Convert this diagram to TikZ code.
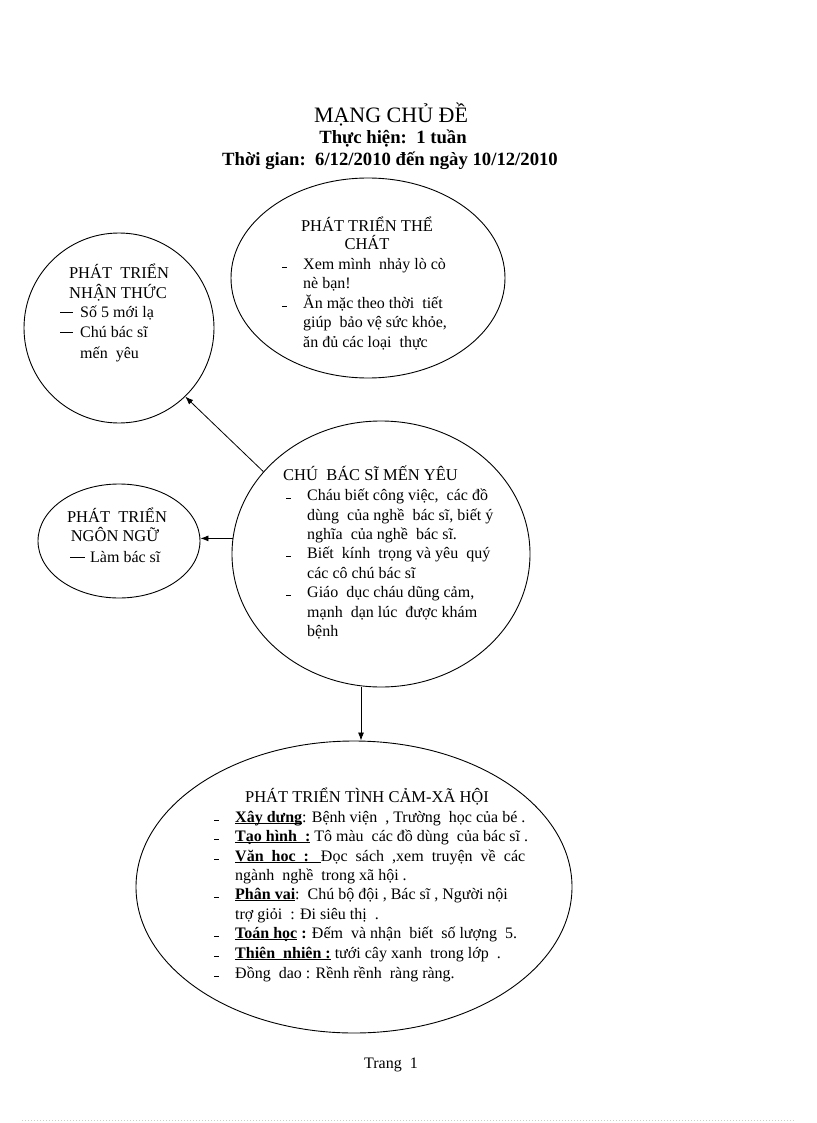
\documentclass[tikz,border=0pt]{standalone}
\usepackage{fontspec}
\setmainfont{Liberation Serif}
\usetikzlibrary{shapes.geometric,arrows.meta}
\definecolor{dotc}{RGB}{195,210,195}
\newcommand\mybul{\llap{\rule[0.8pt]{4.5pt}{1.2pt}\hspace{16.5pt}}}
\newcommand\mydash[2]{\llap{\rule[4.3pt]{#1}{0.9pt}\hspace{#2}}}
\newcommand\myul[1]{\setbox0=\hbox{#1}\rlap{\rule[-2.3pt]{\wd0}{0.9pt}}\box0\relax}
\tikzset{
  bub/.style={draw, ellipse, line width=0.9pt, inner sep=0pt},
  txt/.style={inner sep=0pt, anchor=base west, font=\fontsize{16}{19}\selectfont},
  hd/.style={inner sep=0pt, anchor=base, font=\fontsize{16.5}{19}\selectfont},
  arr/.style={line width=0.8pt, -{Latex[length=8pt,width=6pt]}},
}
\begin{document}
\begin{tikzpicture}[x=1pt,y=-1pt]
\useasboundingbox (0,0) rectangle (816,1123);

% title
\node[inner sep=0pt, anchor=base, font=\fontsize{22}{26}\selectfont] (title) at (391,123) {MẠNG CHỦ ĐỀ};
\node[inner sep=0pt, anchor=base, font=\bfseries\fontsize{18.7}{22}\selectfont] (th) at (393,144) {Thực hiện:\ \ 1 tuần};
\node[inner sep=0pt, anchor=base, font=\bfseries\fontsize{18.7}{22}\selectfont] (tg) at (390,166) {Thời gian:\ \ 6/12/2010 đến ngày 10/12/2010};

% bubbles
\node[bub, minimum width=274pt, minimum height=200pt] (tc) at (368,278) {};
\node[bub, minimum width=190pt, minimum height=190pt] (nt) at (119,328) {};
\node[bub, minimum width=162pt, minimum height=114pt] (nn) at (119,541) {};
\node[bub, minimum width=298pt, minimum height=266pt] (chu) at (381,554) {};
\node[bub, minimum width=436pt, minimum height=292pt] (xh) at (354,887) {};

% connectors
\coordinate (vx) at (361,0);
\draw[arr] (chu.145) -- (nt.-46);
\draw[arr] (chu.174) -- (chu.174 -| nn.east);
\draw[arr] (chu.south -| vx) -- (xh.north -| vx);

% the chat
\node[hd] (tch1) at (367,232) {PHÁT TRIỂN THỂ};
\node[hd] (tch2) at (367,249) {CHÁT};
\node[txt] (tc1) at (303,269) {\mybul Xem mình\ \ nhảy lò cò};
\node[txt] (tc2) at (303,288) {nè bạn!};
\node[txt] (tc3) at (303,308) {\mybul Ăn mặc theo thời\ \ tiết};
\node[txt] (tc4) at (303,327) {giúp\ \ bảo vệ sức khỏe,};
\node[txt] (tc5) at (303,347) {ăn đủ các loại\ \ thực};

% nhan thuc
\node[hd] (nth1) at (119,278) {PHÁT\ \ TRIỂN};
\node[hd] (nth2) at (118,298) {NHẬN THỨC};
\node[txt] (nt1) at (80,317) {\mydash{13pt}{7pt}Số 5 mới lạ};
\node[txt] (nt2) at (80,337) {\mydash{13pt}{7pt}Chú bác sĩ};
\node[txt] (nt3) at (80,358) {mến\ \ yêu};

% ngon ngu
\node[hd] (nnh1) at (117,522) {PHÁT\ \ TRIỂN};
\node[hd] (nnh2) at (115,541) {NGÔN NGỮ};
\node[txt] (nn1) at (90,562) {\mydash{15pt}{5pt}Làm bác sĩ};

% center
\node[hd, anchor=base west] (chh) at (283,480) {CHÚ\ \ BÁC SĨ MẾN YÊU};
\node[txt] (c1) at (307,500) {\mybul Cháu biết công việc,\ \ các đồ};
\node[txt] (c2) at (307,520) {dùng\ \ của nghề\ \ bác sĩ, biết ý};
\node[txt] (c3) at (307,539) {nghĩa\ \ của nghề\ \ bác sĩ.};
\node[txt] (c4) at (307,558) {\mybul Biết\ \ kính\ \ trọng và yêu\ \ quý};
\node[txt] (c5) at (307,578) {các cô chú bác sĩ};
\node[txt] (c6) at (307,597) {\mybul Giáo\ \ dục cháu dũng cảm,};
\node[txt] (c7) at (307,617) {mạnh\ \ dạn lúc\ \ được khám};
\node[txt] (c8) at (307,636) {bệnh};

% tinh cam xa hoi
\node[hd] (xhh) at (367,802) {PHÁT TRIỂN TÌNH CẢM-XÃ HỘI};
\node[txt] (x1) at (235,822) {\mybul\myul{\textbf{Xây dưng}}: Bệnh viện\ \ , Trường\ \ học của bé .};
\node[txt] (x2) at (235,841) {\mybul\myul{\textbf{Tạo hình\ \ :}} Tô màu\ \ các đồ dùng\ \ của bác sĩ .};
\node[txt] (x3) at (235,861) {\mybul\makebox[290pt][s]{\myul{\textbf{Văn\ \ hoc\ \ :\ \ \ }}Đọc sách ,xem truyện về các}};
\node[txt] (x4) at (235,880) {ngành\ \ nghề\ \ trong xã hội .};
\node[txt] (x5) at (235,899) {\mybul\myul{\textbf{Phân vai}}:\ \ Chú bộ đội , Bác sĩ , Người nội};
\node[txt] (x6) at (235,919) {trợ giỏi\ \ : Đi siêu thị\ \ .};
\node[txt] (x7) at (235,938) {\mybul\myul{\textbf{Toán học}}\textbf{ :} Đếm\ \ và nhận\ \ biết\ \ số lượng\ \ 5.};
\node[txt] (x8) at (235,958) {\mybul\myul{\textbf{Thiên\ \ nhiên :}} tưới cây xanh\ \ trong lớp\ \ .};
\node[txt] (x9) at (235,978) {\mybul Đồng\ \ dao : Rềnh rềnh\ \ ràng ràng.};

% footer
\node[txt, anchor=base] (pg) at (391,1068) {Trang\ \ 1};
\coordinate (dl) at (22,1120);
\coordinate (dr) at (795,1120);
\draw[dotc, dotted, line width=1pt] (dl) -- (dr);
\end{tikzpicture}
\end{document}
